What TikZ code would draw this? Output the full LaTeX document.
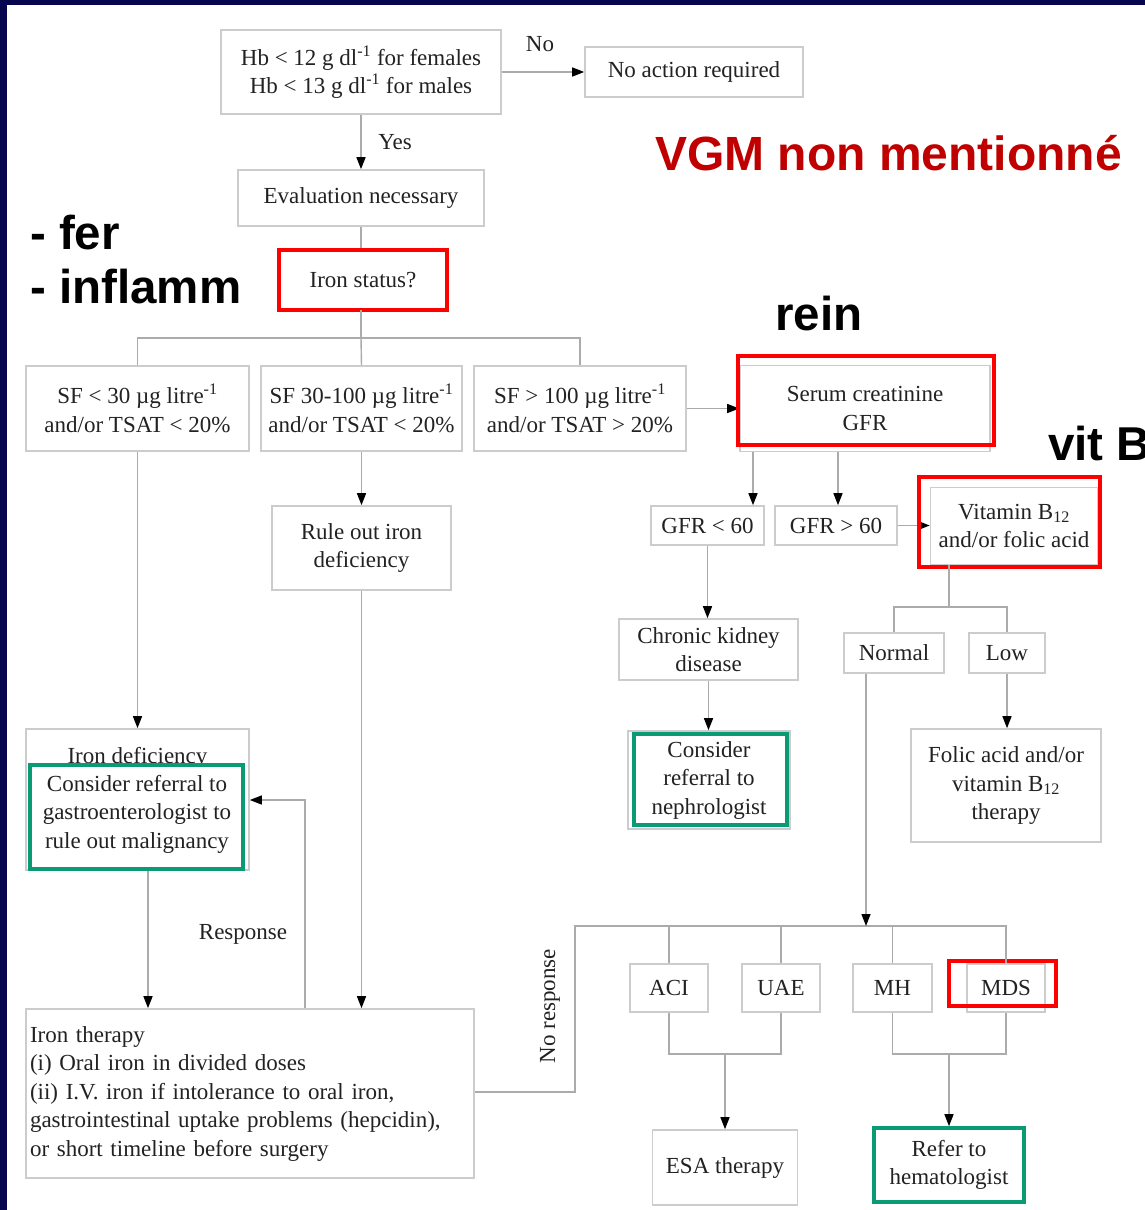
\documentclass[tikz,border=0pt]{standalone}
\usepackage{fontspec}
\setmainfont{Liberation Serif}
\newfontfamily\annfont{Liberation Sans}
\usetikzlibrary{arrows.meta,calc}
\definecolor{boxgray}{HTML}{CCCCCC}
\definecolor{linegray}{HTML}{ABABAB}
\definecolor{navy}{HTML}{06064E}
\definecolor{annred}{HTML}{C00000}
\definecolor{hlred}{HTML}{FF0000}
\definecolor{hlgreen}{HTML}{0A9A74}
\definecolor{txt}{HTML}{222222}
\begin{document}
\begin{tikzpicture}[x=1pt,y=-1pt,
 box/.style={draw=boxgray,line width=1.6pt,fill=white,inner sep=0pt,align=center,text=txt,font=\fontsize{23}{28.5}\selectfont},
 lbl/.style={inner sep=0pt,text=txt,font=\fontsize{23}{28.5}\selectfont},
 conn/.style={draw=linegray,line width=1.4pt},
 arr/.style={conn,-{Triangle[length=12pt,width=9pt,color=black]}},
 redbox/.style={draw=hlred,line width=4pt},
 greenbox/.style={draw=hlgreen,line width=4.5pt},
 ann/.style={inner sep=0pt,font=\annfont\bfseries\fontsize{47.5}{50}\selectfont},
]
\useasboundingbox (0,0) rectangle (1145,1210);
\clip (0,0) rectangle (1145,1210);
\fill[white] (0,0) rectangle (1145,1210);
\fill[navy] (0,0) rectangle (7,1210);
\fill[navy] (0,0) rectangle (1145,5);

% top
\node[box,minimum width=280pt,minimum height=84pt] (hb) at (361,72) {Hb < 12 g dl\textsuperscript{-1} for females\\Hb < 13 g dl\textsuperscript{-1} for males};
\node[box,minimum width=218pt,minimum height=50pt] (noact) at (694,72) {No action required};
\draw[arr] (hb) -- (noact);
\node[lbl] (nolbl) at (540,44) {No};
\node[box,minimum width=246pt,minimum height=56pt] (eval) at (361,198) {Evaluation necessary};
\draw[arr] (hb) -- (eval);
\node[lbl] (yeslbl) at (395,142) {Yes};
\node[box,minimum width=166pt,minimum height=58pt] (iron) at (363,280) {Iron status?};
\draw[conn] (eval) -- (eval |- iron.north);
\draw[redbox] (279,250) rectangle (447,310);

% SF row
\node[box,minimum width=223pt,minimum height=85pt] (sf1) at (137.5,408.5) {SF < 30 µg litre\textsuperscript{-1}\\and/or TSAT < 20\%};
\node[box,minimum width=201pt,minimum height=85pt] (sf2) at (361.5,408.5) {SF 30-100 µg litre\textsuperscript{-1}\\and/or TSAT < 20\%};
\node[box,minimum width=212pt,minimum height=85pt] (sf3) at (580,408.5) {SF > 100 µg litre\textsuperscript{-1}\\and/or TSAT > 20\%};
\coordinate (bar) at (361,338);
\draw[conn] (iron.south -| bar) -- (bar);
\draw[conn] (sf1.north) -- (sf1.north |- bar) -- (sf3.north |- bar) -- (sf3.north);
\draw[conn] (bar) -- (sf2.north);

% kidney branch
\node[box,minimum width=250pt,minimum height=86pt] (serum) at (865,408.5) {Serum creatinine\\GFR};
\draw[arr] (sf3) -- (serum);
\draw[redbox] (738,356) rectangle (994,445);
\node[box,minimum width=113pt,minimum height=39pt] (gfr1) at (707.5,525.5) {GFR < 60};
\node[box,minimum width=122pt,minimum height=39pt] (gfr2) at (836,525.5) {GFR > 60};
\coordinate (s1) at (753,0);
\coordinate (s2) at (838,0);
\draw[arr] (serum.south -| s1) -- (gfr1.north -| s1);
\draw[arr] (serum.south -| s2) -- (gfr2.north -| s2);
\node[box,minimum width=167pt,minimum height=77pt] (vit) at (1014,526) {Vitamin B\textsubscript{12}\\and/or folic acid};
\draw[arr] (gfr2.east) -- (gfr2.east -| vit.west);
\draw[redbox] (919,477) rectangle (1100,567);
\node[box,minimum width=100pt,minimum height=40pt] (normal) at (894,653) {Normal};
\node[box,minimum width=76pt,minimum height=40pt] (low) at (1007,653) {Low};
\coordinate (vbar) at (949,607);
\draw[conn] (vit.south -| vbar) -- (vbar);
\draw[conn] (normal.north) -- (normal.north |- vbar) -- (low.north |- vbar) -- (low.north);
\node[box,minimum width=190pt,minimum height=113pt] (folic) at (1006,785.5) {Folic acid and/or\\vitamin B\textsubscript{12}\\therapy};
\draw[arr] (low.south) -- (low.south |- folic.north);
\node[box,minimum width=179pt,minimum height=61pt] (ckd) at (708.5,649.5) {Chronic kidney\\disease};
\draw[arr] (gfr1.south) -- (gfr1.south |- ckd.north);
\node[box,minimum width=162pt,minimum height=98pt] (neph) at (709,780) {Consider\\referral to\\nephrologist};
\draw[arr] (ckd.south) -- (ckd.south |- neph.north);
\draw[greenbox] (634,734) rectangle (787,825);

% left branch
\node[box,minimum width=223pt,minimum height=141pt] (irondef) at (137.5,799.5) {};
\node[lbl] (irondeflbl) at (137.5,758) {Iron deficiency};
\draw[greenbox,fill=white] (30,765) rectangle (243,869);
\node[lbl,align=center] (gastro) at (137,814) {Consider referral to\\gastroenterologist to\\rule out malignancy};
\draw[arr] (sf1) -- (irondef);
\node[box,minimum width=179pt,minimum height=84pt] (rule) at (361.5,548) {Rule out iron\\deficiency};
\draw[arr] (sf2) -- (rule);
\node[box,minimum width=448pt,minimum height=169pt,text width=440pt,align=left] (ther) at (250,1093.5) {Iron therapy\\(i) Oral iron in divided doses\\(ii) I.V. iron if intolerance to oral iron,\\gastrointestinal uptake problems (hepcidin),\\or short timeline before surgery};
\coordinate (t1) at (148,0);
\draw[arr] (irondef.south -| t1) -- (ther.north -| t1);
\draw[arr] (rule.south) -- (rule.south |- ther.north);
\coordinate (resp) at (305,800);
\draw[arr] (ther.north -| resp) -- (resp) -- (resp -| irondef.east);
\node[lbl] (resplbl) at (243,934) {Response};

% bottom right
\node[box,minimum width=78pt,minimum height=48pt] (aci) at (669,988) {ACI};
\node[box,minimum width=78pt,minimum height=48pt] (uae) at (781,988) {UAE};
\node[box,minimum width=79pt,minimum height=48pt] (mh) at (892.5,988) {MH};
\node[box,minimum width=78pt,minimum height=48pt] (mds) at (1006,988) {MDS};
\draw[redbox] (949,961) rectangle (1056,1006);
\coordinate (nr) at (575,1092);
\coordinate (bbar) at (575,926);
\draw[conn] (ther.east |- nr) -- (nr) -- (bbar) -- (mds.north |- bbar) -- (mds.north);
\draw[conn] (aci.north) -- (aci.north |- bbar);
\draw[conn] (uae.north) -- (uae.north |- bbar);
\draw[conn] (mh.north) -- (mh.north |- bbar);
\coordinate (n1) at (866,0);
\draw[arr] (normal.south -| n1) -- (n1 |- bbar);
\node[lbl,rotate=90] (noresp) at (550,1006) {No response};
\node[box,minimum width=145pt,minimum height=75pt] (esa) at (725,1167.5) {ESA therapy};
\node[box,minimum width=150pt,minimum height=76pt] (refer) at (949,1165) {Refer to\\hematologist};
\coordinate (j1) at (725,1054);
\coordinate (j2) at (949,1054);
\draw[conn] (aci.south) -- (aci.south |- j1) -- (uae.south |- j1) -- (uae.south);
\draw[arr] (j1) -- (j1 |- esa.north);
\draw[conn] (mh.south) -- (mh.south |- j2) -- (mds.south |- j2) -- (mds.south);
\draw[arr] (j2) -- (j2 |- refer.north);
\draw[greenbox] (874,1128) rectangle (1024,1202);

% annotations
\node[ann,text=annred,anchor=base west,font=\annfont\bfseries\fontsize{48}{50}\selectfont] (vgm) at (655,170) {VGM non mentionné};
\node[ann,anchor=base west] (fer) at (30,249) {- fer};
\node[ann,anchor=base west] (infl) at (30,303) {- inflamm};
\node[ann,anchor=base west] (rein) at (775,330) {rein};
\node[ann,anchor=base west] (vitb) at (1048,460) {vit B};
\end{tikzpicture}
\end{document}
